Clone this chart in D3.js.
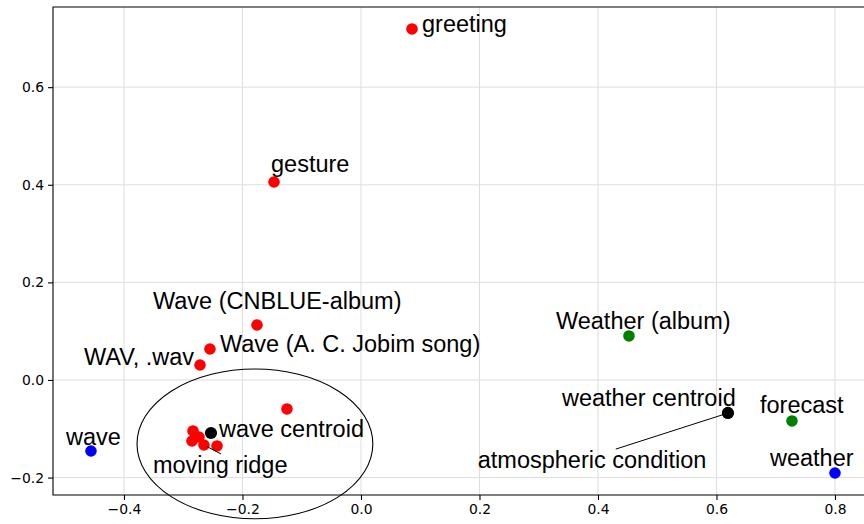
<!DOCTYPE html>
<html>
<head>
<meta charset="utf-8">
<script src="https://cdn.jsdelivr.net/npm/d3@7"></script>
<style>
  html, body { margin: 0; padding: 0; background: #fff; }
  svg { display: block; }
</style>
</head>
<body>
<svg id="chart" width="864" height="524"></svg>
<script>
// Two-dimensional projection of sense embeddings for "wave" and "weather"

// labelled points
const pointNames = [
  "greeting", "gesture", "Wave (CNBLUE-album)", "Wave (A. C. Jobim song)", "WAV, .wav",
  "moving ridge", "wave", "Weather (album)", "atmospheric condition", "forecast", "weather"
];
const pointX = [0.0861, -0.1468, -0.1755, -0.2549, -0.2717, -0.2650, -0.4557, 0.4523, 0.6190, 0.7274, 0.8000];
const pointY = [0.7193, 0.4057, 0.1127, 0.0635, 0.0307, -0.1332, -0.1455, 0.0902, -0.0679, -0.0840, -0.1906];
const pointGroup = ["wave", "wave", "wave", "wave", "wave", "wave", "query", "weather", "weather", "weather", "query"];

// unlabelled senses around the wave centroid
const extraX = [-0.1249, -0.2835, -0.2852, -0.2734, -0.2430];
const extraY = [-0.0594, -0.1045, -0.1250, -0.1168, -0.1352];

// centroids
const centroidNames = ["wave centroid", "weather centroid"];
const centroidX = [-0.2532, 0.6194];
const centroidY = [-0.1086, -0.0676];

// ellipse around the wave cluster: centre, width, height
const clusterEllipse = [-0.179, -0.131, 0.398, 0.307];

const xTicks = [-0.4, -0.2, 0.0, 0.2, 0.4, 0.6, 0.8];
const yTicks = [-0.2, 0.0, 0.2, 0.4, 0.6];

// ---- styling ----
const colors = { wave: "#ff0000", weather: "#008000", query: "#0000ff", centroid: "#000000" };
// label placement relative to its point (pixels): [dx, dy, leader line?]
const labelPlacement = {
  "greeting": [10, 3, false],
  "gesture": [-3, -10, false],
  "Wave (CNBLUE-album)": [-104, -16, false],
  "Wave (A. C. Jobim song)": [10, 3, false],
  "WAV, .wav": [-116, 0, false],
  "moving ridge": [-51, 28, true],
  "wave": [-25, -6, false],
  "Weather (album)": [-73, -7, false],
  "atmospheric condition": [-250, 55, true],
  "forecast": [-32, -8, false],
  "weather": [-65, -7, false],
  "wave centroid": [8, 4, false],
  "weather centroid": [-166, -7, false]
};

const W = 864, H = 524;
const m = { left: 53, top: 7, right: 870, bottom: 495 };

const x = d3.scaleLinear().domain([-0.5198, 0.8591]).range([m.left, m.right]);
const y = d3.scaleLinear().domain([-0.2357, 0.7643]).range([m.bottom, m.top]);

const svg = d3.select("#chart");

svg.append("defs").append("clipPath").attr("id", "plotClip")
  .append("rect").attr("x", m.left).attr("y", m.top)
  .attr("width", m.right - m.left).attr("height", m.bottom - m.top);

// grid
const grid = svg.append("g").attr("clip-path", "url(#plotClip)");
grid.selectAll("line.gx").data(xTicks).join("line")
  .attr("x1", d => x(d)).attr("x2", d => x(d))
  .attr("y1", m.top).attr("y2", m.bottom)
  .attr("stroke", "#dedede").attr("stroke-width", 1);
grid.selectAll("line.gy").data(yTicks).join("line")
  .attr("y1", d => y(d)).attr("y2", d => y(d))
  .attr("x1", m.left).attr("x2", m.right)
  .attr("stroke", "#dedede").attr("stroke-width", 1);

// axes
const fmt = d3.format(".1f");
const xAxis = svg.append("g").attr("transform", `translate(0,${m.bottom})`)
  .call(d3.axisBottom(x).tickValues(xTicks).tickFormat(fmt).tickSize(5).tickPadding(4));
const yAxis = svg.append("g").attr("transform", `translate(${m.left},0)`)
  .call(d3.axisLeft(y).tickValues(yTicks).tickFormat(fmt).tickSize(5).tickPadding(4));
[xAxis, yAxis].forEach(a => {
  a.select(".domain").remove();
  a.selectAll("line").attr("stroke", "#000").attr("stroke-width", 1.1);
  a.selectAll("text").attr("fill", "#000")
    .style("font-family", "DejaVu Sans, sans-serif").style("font-size", "13.9px");
});

// spines (left, top, bottom)
svg.append("path")
  .attr("d", `M${m.right},${m.top}H${m.left}V${m.bottom}H${m.right}`)
  .attr("fill", "none").attr("stroke", "#000").attr("stroke-width", 1.1);

const labelFont = "Liberation Sans, Arial, sans-serif";
const labelSize = "23.5px";

// markers
const markers = svg.append("g").attr("clip-path", "url(#plotClip)");
const R = 5.8;

markers.selectAll("circle.extra").data(extraX).join("circle")
  .attr("cx", d => x(d)).attr("cy", (d, i) => y(extraY[i])).attr("r", R)
  .attr("fill", colors.wave);

markers.selectAll("circle.pt").data(pointNames).join("circle")
  .attr("cx", (d, i) => x(pointX[i])).attr("cy", (d, i) => y(pointY[i])).attr("r", R)
  .attr("fill", (d, i) => colors[pointGroup[i]]);

markers.selectAll("circle.cen").data(centroidNames).join("circle")
  .attr("cx", (d, i) => x(centroidX[i])).attr("cy", (d, i) => y(centroidY[i])).attr("r", R + 0.3)
  .attr("fill", colors.centroid);

// ellipse (drawn unclipped)
const [ecx, ecy, ew, eh] = clusterEllipse;
svg.append("ellipse")
  .attr("cx", x(ecx)).attr("cy", y(ecy))
  .attr("rx", Math.abs(x(ecx + ew / 2) - x(ecx)))
  .attr("ry", Math.abs(y(ecy + eh / 2) - y(ecy)))
  .attr("fill", "none").attr("stroke", "#000").attr("stroke-width", 1.1);

// labels
const allLabels = pointNames.map((n, i) => ({ name: n, px: x(pointX[i]), py: y(pointY[i]) }))
  .concat(centroidNames.map((n, i) => ({ name: n, px: x(centroidX[i]), py: y(centroidY[i]) })));

const lg = svg.append("g");
allLabels.forEach(d => {
  const [dx, dy, leader] = labelPlacement[d.name];
  const t = lg.append("text")
    .attr("x", d.px + dx).attr("y", d.py + dy)
    .style("font-family", labelFont).style("font-size", labelSize)
    .attr("fill", "#000").text(d.name);
  if (leader) {
    const bb = t.node().getBBox();
    // line from the label's upper edge toward the point
    const sx = d.name === "moving ridge" ? bb.x + 68 : bb.x + 138;
    const sy = bb.y + 2;
    const ang = Math.atan2(d.py - sy, d.px - sx);
    const ex = d.px - Math.cos(ang) * 3, ey = d.py - Math.sin(ang) * 3;
    lg.append("line").attr("x1", sx).attr("y1", sy).attr("x2", ex).attr("y2", ey)
      .attr("stroke", "#000").attr("stroke-width", 1);
  }
});
</script>
</body>
</html>
